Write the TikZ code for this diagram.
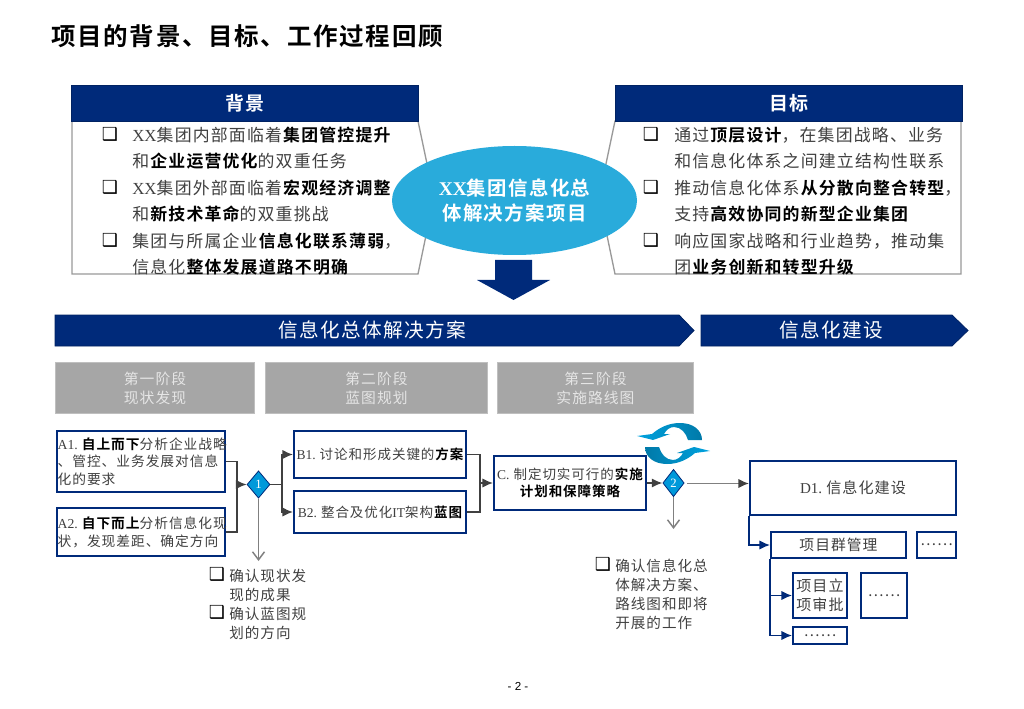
\documentclass[tikz,border=0pt]{standalone}
\usepackage{fontspec}
\usetikzlibrary{shapes.geometric,arrows.meta}
\setmainfont{Noto Sans CJK SC}[LetterSpace=7,BoldFont=* Bold]
\newfontfamily\latf{Liberation Serif}
\newfontfamily\symf{DejaVu Sans}
\newfontfamily\pagef{Liberation Sans}
\newcommand\la[1]{{\latf #1}}
\newcommand\bd[1]{\textbf{\color{black}#1}}
\newcommand\fsz[2]{\fontsize{\fpeval{#1*0.75*1.056}pt}{\fpeval{#2*0.75}pt}\selectfont}
\definecolor{navy}{HTML}{002A7A}
\definecolor{sky}{HTML}{29ABDB}
\definecolor{dia}{HTML}{0099DA}
\definecolor{swA}{HTML}{00A3E0}
\definecolor{swB}{HTML}{0079A8}
\definecolor{ln}{HTML}{404040}
\definecolor{gl}{HTML}{808080}
\definecolor{bt}{HTML}{404040}
\tikzset{
 pxbox/.style n args={2}{rectangle,anchor=north west,inner sep=0pt,minimum width=#1*0.75pt,minimum height=#2*0.75pt},
 bluebox/.style={draw=navy,fill=white,line width=1.5pt,align=center,text=bt},
 header/.style={fill=navy,draw=navy!80!black,text=white,font=\bfseries\fsz{18}{22}},
 stage/.style={fill=black!35,draw=black!25,line width=0.75pt,text=black!10,align=center,font=\fsz{14}{19}},
 body/.style={anchor=west,inner sep=0pt,align=left,text=bt},
 bullet/.style={inner sep=0pt,font=\symf\fsz{17}{17},text=black},
 flow/.style={draw=ln,line width=1.1pt,-{Latex[length=8pt,width=7pt]}},
 flowplain/.style={draw=ln,line width=1.1pt},
 open/.style={draw=gl,line width=1.1pt,-{Straight Barb[length=6pt,width=9pt]}},
 subflow/.style={draw=navy,line width=1pt,-{Latex[length=8pt,width=7pt]}},
 panel/.style={draw=black!40,line width=1pt,fill=white},
 band/.style={fill=navy,draw=navy!80!black,line width=0.6pt},
}
\begin{document}
\begin{tikzpicture}[x=0.75pt,y=-0.75pt]
\useasboundingbox (0,0) rectangle (1024,709);
% title
\node[anchor=west,inner sep=0pt,font=\bfseries\fsz{23.2}{26}] (title) at (51,36) {项目的背景、目标、工作过程回顾};
% panels
\draw[panel] (72,121) -- (418,121) -- (434,197) -- (418,274) -- (72,274) -- cycle;
\draw[panel] (961,121) -- (615,121) -- (599,197) -- (615,274) -- (961,274) -- cycle;
\node[pxbox={347}{36},header] (hbg) at (71,85) {背景};
\node[pxbox={347}{36},header] (hgoal) at (615,85) {目标};
% centre ellipse
\node[ellipse,fill=sky,inner sep=0pt,minimum width=183.75pt,minimum height=81.75pt,text=white,align=center,font=\bfseries\fsz{18.4}{25}] (core) at (514.5,200.5) {\la{XX}集团信息化总\\体解决方案项目};
% left text
\node[bullet] (bb1) at (110,134) {❑};
\node[bullet] (bb2) at (110,187) {❑};
\node[bullet] (bb3) at (110,240) {❑};
\node[body,font=\fsz{16}{26.5}] (bgtext) at (132,201) {\la{XX}集团内部面临着\bd{集团管控提升}\\和\bd{企业运营优化}的双重任务\\\la{XX}集团外部面临着\bd{宏观经济调整}\\和\bd{新技术革命}的双重挑战\\集团与所属企业\bd{信息化联系薄弱}，\\信息化\bd{整体发展道路不明确}};
% right text
\node[bullet] (gb1) at (651,134) {❑};
\node[bullet] (gb2) at (651,187) {❑};
\node[bullet] (gb3) at (651,240) {❑};
\node[body,font=\fsz{16}{26.5}] (goaltext) at (674,201) {通过\bd{顶层设计}，在集团战略、业务\\和信息化体系之间建立结构性联系\\推动信息化体系\bd{从分散向整合转型}，\\支持\bd{高效协同的新型企业集团}\\响应国家战略和行业趋势，推动集\\团\bd{业务创新和转型升级}};
% big arrow
\fill[navy] (495,260) -- (532,260) -- (532,280) -- (550,280) -- (513.5,300) -- (477,280) -- (495,280) -- cycle;
% bands
\draw[band] (55,315) -- (679,315) -- (694,330.5) -- (679,346) -- (55,346) -- cycle;
\draw[band] (701,315) -- (952,315) -- (968,330.5) -- (952,346) -- (701,346) -- cycle;
\node[inner sep=0pt,text=white,font=\fsz{18.6}{22}] (bandA) at (372,330) {信息化总体解决方案};
\node[inner sep=0pt,text=white,font=\fsz{18.6}{22}] (bandB) at (831,330) {信息化建设};
% stages
\node[pxbox={199}{51},stage] (s1) at (55,362) {第一阶段\\现状发现};
\node[pxbox={222}{51},stage] (s2) at (265,362) {第二阶段\\蓝图规划};
\node[pxbox={196}{51},stage] (s3) at (497,362) {第三阶段\\实施路线图};
% boxes
\node[pxbox={168}{61},bluebox,text width=125pt,font=\fsz{13}{17.3},align=left] (a1) at (56,430) {\la{A1.}\kern3pt\bd{自上而下}分析企业战略\\、管控、业务发展对信息\\化的要求};
\node[pxbox={168}{48},bluebox,text width=125pt,font=\fsz{13}{18},align=left] (a2) at (56,507) {\la{A2.}\kern3pt\bd{自下而上}分析信息化现\\状，发现差距、确定方向};
\node[pxbox={172}{47},bluebox,font=\fsz{12.8}{17}] (b1) at (293,430) {\la{B1.}\kern3pt讨论和形成关键的\bd{方案}};
\node[pxbox={172}{42},bluebox,font=\fsz{12.8}{17}] (b2) at (293,490) {\la{B2.}\kern3pt整合及优化\la{IT}架构\bd{蓝图}};
\node[pxbox={152}{54},bluebox,font=\fsz{12.8}{17.5}] (c) at (493,455) {\la{C.}\kern3pt制定切实可行的\bd{实施}\\\bd{计划和保障策略}};
\node[pxbox={206}{54},bluebox,font=\fsz{14.3}{18}] (d1) at (749,460) {\la{D1.}\kern3pt信息化建设};
\node[pxbox={135}{26},bluebox,font=\fsz{14}{17}] (pg) at (770,531) {项目群管理};
\node[pxbox={39}{26},bluebox,font=\fsz{14}{17}] (pgm) at (916,531) {……};
\node[pxbox={54}{45},bluebox,font=\fsz{14.2}{19}] (appr) at (792,572) {项目立\\项审批};
\node[pxbox={46}{45},bluebox,font=\fsz{14}{17}] (apm) at (860,572) {……};
\node[pxbox={54}{17},bluebox,font=\fsz{14}{17}] (lowm) at (792,626) {……};
% diamonds
\node[diamond,aspect=0.8,fill=dia,draw=navy,line width=0.6pt,inner sep=0pt,minimum width=17.25pt,minimum height=20.5pt,text=white,font=\latf\fsz{12}{12}] (d1d) at (258.5,484.5) {1};
\node[diamond,aspect=0.8,fill=dia,draw=navy,line width=0.6pt,inner sep=0pt,minimum width=16pt,minimum height=20.5pt,text=white,font=\latf\fsz{12}{12}] (d2d) at (673.5,483) {2};
% connector joints
\coordinate (ja) at (237,484.5);
\coordinate (jb) at (282,484.5);
\coordinate (jc) at (480,483);
\coordinate (o1) at (258.5,561);
\coordinate (o2) at (673.5,529);
\coordinate (jd) at (749,516);
\coordinate (je) at (770,559);
\coordinate (d2out) at (687,483.5);
\draw[flowplain] (a1.east) -| (ja);
\draw[flowplain] (a2.east) -| (ja);
\draw[flow] (ja) -- (d1d.west);
\draw[flowplain] (d1d.east) -- (jb);
\draw[flow] (jb) |- (b1.west);
\draw[flow] (jb) |- (b2.west);
\draw[flowplain] (b1.east) -| (jc);
\draw[flowplain] (b2.east) -| (jc);
\draw[flow] (jc) -- (c.west);
\draw[flow] (c.east |- d2d.west) -- (d2d.west);
\draw[draw=gl,line width=1.1pt,-{Latex[length=8pt,width=7pt,color=ln]}] (d2out) -- (d2out -| d1.west);
\draw[open] (d1d.south) -- (o1);
\draw[open] (d2d.south) -- (o2);
\draw[subflow] (jd) |- (pg.west);
\draw[subflow] (je) |- (appr.west);
\draw[subflow] (je) |- (lowm.west);
% cycle icon
\shade[left color=swA,right color=swB] (702,440) .. controls (702,430) and (693,423) .. (680,423) .. controls (668,423) and (659,428) .. (652,434) -- (637,436) -- (653,440) -- (670,434) -- (664,434) .. controls (666,430) and (670,427) .. (674,427) .. controls (681,427) and (686,433) .. (688,440) -- cycle;
\shade[left color=swB,right color=swA] (645,447) .. controls (645,457) and (654,464) .. (667,464) .. controls (679,464) and (688,459) .. (695,453) -- (710,451) -- (694,447) -- (677,453) -- (683,453) .. controls (681,457) and (677,460) .. (673,460) .. controls (666,460) and (661,454) .. (659,447) -- cycle;
% outcome texts
\node[bullet] (ob1) at (217,574) {❑};
\node[bullet] (ob2) at (217,612) {❑};
\node[body,font=\fsz{13.8}{19}] (o1text) at (229,604) {确认现状发\\现的成果\\确认蓝图规\\划的方向};
\node[bullet] (ob3) at (603,564) {❑};
\node[body,font=\fsz{13.8}{19}] (o2text) at (615,594) {确认信息化总\\体解决方案、\\路线图和即将\\开展的工作};
% page number
\node[inner sep=0pt,font=\pagef\fsz{11}{14}] (pnum) at (518,686) {- 2 -};
\end{tikzpicture}
\end{document}
